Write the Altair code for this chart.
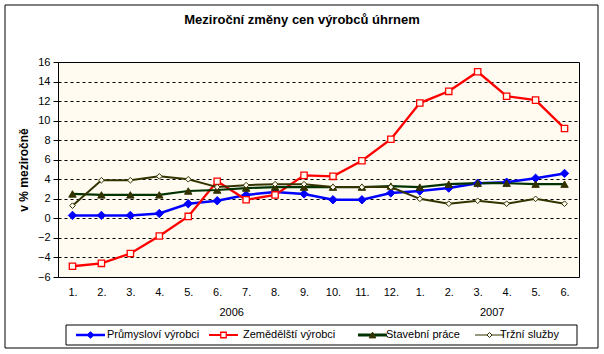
import altair as alt
import pandas as pd

# ---- data ----
months = ["1.", "2.", "3.", "4.", "5.", "6.", "7.", "8.", "9.", "10.", "11.", "12.",
          "1.", "2.", "3.", "4.", "5.", "6."]
years = ["2006"] * 12 + ["2007"] * 6
series_names = ["Průmysloví výrobci", "Zemědělští výrobci", "Stavební práce", "Tržní služby"]
prumysl = [0.3, 0.3, 0.3, 0.5, 1.5, 1.8, 2.4, 2.7, 2.5, 1.9, 1.9, 2.6, 2.8, 3.1, 3.6, 3.7, 4.1, 4.6]
zemedel = [-4.9, -4.6, -3.6, -1.8, 0.2, 3.8, 1.9, 2.4, 4.4, 4.3, 5.9, 8.1, 11.8, 13.0, 15.0, 12.5, 12.1, 9.2]
stavebni = [2.5, 2.4, 2.4, 2.4, 2.8, 2.9, 3.1, 3.2, 3.2, 3.2, 3.2, 3.3, 3.2, 3.5, 3.6, 3.6, 3.5, 3.5]
trzni = [1.3, 3.9, 3.9, 4.3, 4.0, 3.2, 3.4, 3.5, 3.5, 3.2, 3.2, 3.2, 2.0, 1.5, 1.8, 1.5, 2.0, 1.5]
y_ticks = list(range(-6, 17, 2))
title_text = "Meziroční změny cen výrobců úhrnem"
y_title = "v % meziročně"

# ---- styles ----
FONT = "Liberation Sans"
line_colors = ["#0000FF", "#FF0000", "#003300", "#333300"]
line_widths = [2.5, 2.0, 3.0, 1.0]
marker_shapes = ["diamond", "square", "triangle-up", "diamond"]
marker_fill = ["#0000FF", "#FFFBF0", "#333300", "#FFFBF0"]
marker_stroke = ["#0000FF", "#FF0000", "#333300", "#333300"]
marker_size = [70, 40, 55, 32]
marker_sw = [1, 1.3, 1, 1]
legend_marker_fill = ["#0000FF", "#FFFFFF", "#333300", "#FFFFFF"]
legend_marker_size = [45, 30, 45, 25]
# legend layout (pixels, relative to the plot area's top-left corner)
leg_line_x = [18, 151, 300, 417]
leg_line_len = 29
leg_text_x = [49, 185, 328, 442]
leg_y = 273
leg_box = (8, 519, 263, 283)

rows = []
for s, vals in zip(series_names, [prumysl, zemedel, stavebni, trzni]):
    for i, v in enumerate(vals):
        rows.append({"series": s, "idx": i + 1, "month": months[i], "year": years[i], "value": v})
df = pd.DataFrame(rows)

label_expr = "[" + ",".join("'%s'" % m for m in months) + "][datum.value - 1]"

x_scale = alt.Scale(domain=[0.5, len(months) + 0.5], nice=False, zero=False)
y_scale = alt.Scale(domain=[-6, 16], nice=False, zero=False)

x_axis = alt.Axis(values=list(range(1, len(months) + 1)), labelExpr=label_expr,
                  ticks=False, grid=False, domain=False, labelFont=FONT,
                  labelFontSize=11, labelColor="black", labelPadding=9, title=None,
                  labelOverlap=False)
y_axis = alt.Axis(values=y_ticks, grid=True, gridColor="black", gridDash=[3, 3],
                  gridWidth=1, tickSize=5, tickColor="black", domain=False,
                  labelFont=FONT, labelFontSize=11, labelColor="black", labelPadding=3,
                  labelOverlap=False,
                  title=y_title, titleFont=FONT, titleFontSize=12,
                  titleFontWeight="bold", titleColor="black", titlePadding=7)
x_enc = alt.X("idx:Q", scale=x_scale, axis=x_axis)
y_enc = alt.Y("value:Q", scale=y_scale, axis=y_axis)

base = alt.Chart(df)

border = alt.Chart(pd.DataFrame({"a": [0]})).mark_rect(
    fill="transparent", fillOpacity=0, stroke="black", strokeWidth=1
).encode(x=alt.value(-53), x2=alt.value(540), y=alt.value(-57), y2=alt.value(286))

title_mark = alt.Chart(pd.DataFrame({"t": [title_text]})).mark_text(
    font=FONT, fontSize=13, fontWeight="bold", color="black", baseline="middle", align="center"
).encode(text="t:N", x=alt.value(244), y=alt.value(-42))

lines = base.mark_line().encode(
    x=x_enc, y=y_enc,
    color=alt.Color("series:N", scale=alt.Scale(domain=series_names, range=line_colors), legend=None),
    strokeWidth=alt.StrokeWidth("series:N", scale=alt.Scale(domain=series_names, range=line_widths), legend=None),
    order=alt.Order("idx:Q"),
)

point_layers = []
for k, s in enumerate(series_names):
    point_layers.append(
        base.transform_filter(alt.datum.series == s).mark_point(
            shape=marker_shapes[k], filled=True, fill=marker_fill[k], stroke=marker_stroke[k],
            strokeWidth=marker_sw[k], size=marker_size[k], opacity=1
        ).encode(x=x_enc, y=y_enc)
    )

# ---- manual legend ----
legend_layers = [
    alt.Chart(pd.DataFrame({"a": [0]})).mark_rect(
        fill="white", stroke="black", strokeWidth=1
    ).encode(x=alt.value(leg_box[0]), x2=alt.value(leg_box[1]),
             y=alt.value(leg_box[2]), y2=alt.value(leg_box[3]))
]
for k, s in enumerate(series_names):
    one = alt.Chart(pd.DataFrame({"name": [s]}))
    legend_layers.append(one.mark_rule(color=line_colors[k], strokeWidth=line_widths[k]).encode(
        x=alt.value(leg_line_x[k]), x2=alt.value(leg_line_x[k] + leg_line_len), y=alt.value(leg_y)))
    legend_layers.append(one.mark_point(
        shape=marker_shapes[k], filled=True, fill=legend_marker_fill[k], stroke=marker_stroke[k],
        strokeWidth=marker_sw[k], size=legend_marker_size[k], opacity=1
    ).encode(x=alt.value(leg_line_x[k] + leg_line_len / 2), y=alt.value(leg_y)))
    legend_layers.append(one.mark_text(
        font=FONT, fontSize=11, color="black", align="left", baseline="middle"
    ).encode(x=alt.value(leg_text_x[k]), y=alt.value(leg_y), text="name:N"))

year_labels = base.transform_filter(alt.datum.series == series_names[0]).transform_aggregate(
    mid="mean(idx)", groupby=["year"]
).mark_text(font=FONT, fontSize=11, color="black", baseline="middle").encode(
    x=alt.X("mid:Q", scale=x_scale, axis=x_axis), y=alt.value(251), text="year:N"
)

chart = alt.layer(border, title_mark, lines, *point_layers, year_labels, *legend_layers).properties(
    width=521, height=215,
    padding={"left": 58, "top": 62, "right": 25, "bottom": 77},
    autosize=alt.AutoSizeParams(type="none"),
    background="white",
).configure_view(fill="#FFFBF0", stroke="black", strokeWidth=1)

chart.save("out.html", embed_options={"renderer": "svg", "actions": False})
